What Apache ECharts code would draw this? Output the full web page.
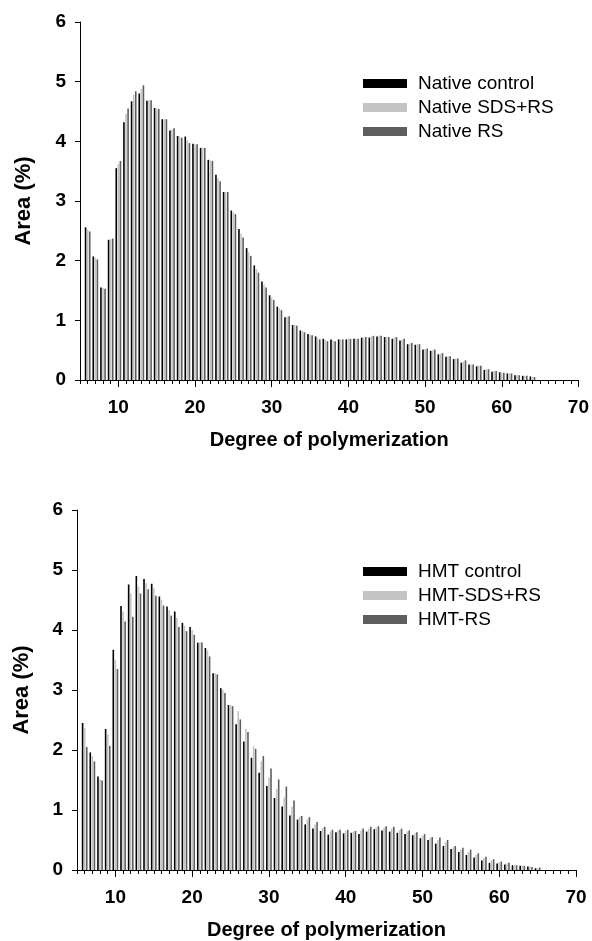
<!DOCTYPE html>
<html>
<head>
<meta charset="utf-8">
<script src="https://cdn.jsdelivr.net/npm/echarts@6/dist/echarts.min.js"></script>
<style>
  html, body { margin: 0; padding: 0; background: #fff; }
  #main { width: 592px; height: 941px; }
</style>
</head>
<body>
<div id="main"></div>
<script>
// degree of polymerization categories (axis runs 5..70)
var dp = [5, 6, 7, 8, 9, 10, 11, 12, 13, 14, 15, 16, 17, 18, 19, 20, 21, 22, 23, 24, 25,
  26, 27, 28, 29, 30, 31, 32, 33, 34, 35, 36, 37, 38, 39, 40, 41, 42, 43, 44, 45,
  46, 47, 48, 49, 50, 51, 52, 53, 54, 55, 56, 57, 58, 59, 60, 61, 62, 63, 64, 65,
  66, 67, 68, 69, 70];
var xTickLabels = [10, 20, 30, 40, 50, 60, 70];
var yTickLabels = [0, 1, 2, 3, 4, 5, 6];

// top chart, DP 6..64
var nativeControl = [2.56, 2.07, 1.55, 2.35, 3.55, 4.32, 4.67, 4.80, 4.68, 4.56,
  4.37, 4.18, 4.09, 4.08, 3.96, 3.89, 3.69, 3.44, 3.15, 2.84,
  2.53, 2.21, 1.92, 1.65, 1.42, 1.23, 1.05, 0.92, 0.83, 0.77,
  0.73, 0.69, 0.68, 0.68, 0.68, 0.69, 0.71, 0.71, 0.73, 0.72,
  0.69, 0.66, 0.60, 0.59, 0.51, 0.49, 0.43, 0.39, 0.35, 0.29,
  0.26, 0.23, 0.17, 0.14, 0.13, 0.11, 0.08, 0.07, 0.06];
var nativeSdsRs = [2.52, 2.05, 1.54, 2.36, 3.62, 4.46, 4.78, 4.88, 4.69, 4.55,
  4.37, 4.20, 4.08, 4.02, 3.95, 3.89, 3.68, 3.38, 3.15, 2.81,
  2.45, 2.14, 1.86, 1.60, 1.38, 1.20, 1.06, 0.92, 0.82, 0.76,
  0.70, 0.67, 0.66, 0.68, 0.69, 0.69, 0.71, 0.73, 0.74, 0.72,
  0.71, 0.68, 0.61, 0.60, 0.52, 0.50, 0.44, 0.40, 0.36, 0.31,
  0.26, 0.24, 0.18, 0.15, 0.12, 0.11, 0.08, 0.07, 0.05];
var nativeRs = [2.49, 2.02, 1.53, 2.37, 3.67, 4.55, 4.84, 4.94, 4.69, 4.54,
  4.37, 4.22, 4.06, 3.97, 3.95, 3.89, 3.67, 3.33, 3.15, 2.78,
  2.39, 2.08, 1.80, 1.55, 1.34, 1.17, 1.07, 0.91, 0.80, 0.75,
  0.68, 0.65, 0.65, 0.68, 0.69, 0.69, 0.72, 0.74, 0.74, 0.72,
  0.72, 0.69, 0.62, 0.60, 0.53, 0.51, 0.45, 0.40, 0.36, 0.33,
  0.26, 0.24, 0.18, 0.15, 0.12, 0.11, 0.08, 0.07, 0.05];

// bottom chart, DP 6..65
var hmtControl = [2.45, 1.96, 1.56, 2.35, 3.67, 4.40, 4.76, 4.90, 4.85, 4.77,
  4.56, 4.39, 4.31, 4.12, 4.05, 3.79, 3.70, 3.28, 3.03, 2.75,
  2.43, 2.14, 1.87, 1.62, 1.40, 1.20, 1.06, 0.91, 0.84, 0.76,
  0.69, 0.65, 0.59, 0.63, 0.61, 0.62, 0.60, 0.64, 0.68, 0.66,
  0.64, 0.62, 0.60, 0.58, 0.53, 0.50, 0.44, 0.40, 0.35, 0.30,
  0.25, 0.21, 0.16, 0.12, 0.11, 0.09, 0.08, 0.07, 0.06, 0.03];
var hmtSdsRs = [2.37, 1.90, 1.51, 2.26, 3.50, 4.31, 4.61, 4.72, 4.78, 4.70,
  4.50, 4.33, 4.20, 4.07, 4.00, 3.79, 3.66, 3.28, 3.00, 2.75,
  2.65, 2.35, 2.06, 1.81, 1.54, 1.35, 1.21, 1.06, 0.89, 0.84,
  0.76, 0.70, 0.64, 0.66, 0.65, 0.64, 0.66, 0.69, 0.71, 0.70,
  0.69, 0.66, 0.64, 0.61, 0.57, 0.53, 0.50, 0.46, 0.38, 0.34,
  0.30, 0.25, 0.20, 0.16, 0.13, 0.11, 0.08, 0.07, 0.06, 0.03];
var hmtRs = [2.05, 1.81, 1.49, 2.07, 3.35, 4.14, 4.22, 4.61, 4.68, 4.57,
  4.41, 4.24, 4.05, 3.98, 3.92, 3.79, 3.56, 3.26, 2.95, 2.73,
  2.51, 2.30, 2.02, 1.90, 1.69, 1.51, 1.39, 1.16, 0.90, 0.88,
  0.80, 0.72, 0.67, 0.67, 0.67, 0.65, 0.69, 0.72, 0.73, 0.73,
  0.72, 0.69, 0.66, 0.63, 0.60, 0.55, 0.54, 0.50, 0.40, 0.37,
  0.34, 0.28, 0.22, 0.18, 0.14, 0.12, 0.08, 0.07, 0.05, 0.04];

var font = '"Liberation Sans", Arial, sans-serif';
var colors = ['#000000', '#c4c4c4', '#5e5e5e'];

function isMajor(i, v) {
  return xTickLabels.indexOf(Number(v)) >= 0;
}

// first category (DP 5) has no data
function pad(arr) {
  return [null].concat(arr);
}

function xAxes(g) {
  return [{
    gridIndex: g,
    type: 'category',
    data: dp,
    boundaryGap: false,
    position: 'bottom',
    axisLine: { lineStyle: { color: '#000', width: 1 } },
    axisTick: { interval: 0, length: 4, lineStyle: { color: '#000' } },
    axisLabel: { show: false },
    name: 'Degree of polymerization',
    nameLocation: 'middle',
    nameGap: 50,
    nameTextStyle: { color: '#000', fontSize: 20, fontWeight: 'bold', fontFamily: font }
  }, {
    gridIndex: g,
    type: 'category',
    data: dp,
    boundaryGap: false,
    position: 'bottom',
    axisLine: { show: false },
    axisTick: { interval: isMajor, length: 7, lineStyle: { color: '#000' } },
    axisLabel: {
      interval: isMajor, margin: 18,
      color: '#000', fontSize: 19, fontWeight: 'bold', fontFamily: font
    }
  }];
}

function yAxis(g, gap) {
  return {
    gridIndex: g,
    type: 'value',
    min: yTickLabels[0],
    max: yTickLabels[yTickLabels.length - 1],
    interval: 1,
    splitLine: { show: false },
    axisLine: { show: true, lineStyle: { color: '#000', width: 1 } },
    axisTick: { show: true, length: 5, lineStyle: { color: '#000' } },
    axisLabel: { margin: 14, color: '#000', fontSize: 19, fontWeight: 'bold', fontFamily: font },
    name: 'Area (%)',
    nameLocation: 'middle',
    nameGap: gap,
    nameTextStyle: { color: '#000', fontSize: 22, fontWeight: 'bold', fontFamily: font }
  };
}

function bars(name, data, color, xi, yi) {
  return {
    name: name,
    type: 'bar',
    xAxisIndex: xi,
    yAxisIndex: yi,
    data: pad(data),
    barWidth: 1.6,
    barGap: '30%',
    itemStyle: { color: color },
    animation: false
  };
}

function legend(names, top) {
  return {
    data: names,
    orient: 'vertical',
    left: 358,
    top: top,
    icon: 'rect',
    itemWidth: 44,
    itemHeight: 9,
    itemGap: 5,
    textStyle: { color: '#000', fontSize: 19, fontFamily: font, padding: [0, 0, 0, 6] }
  };
}

var chart = echarts.init(document.getElementById('main'), null, { width: 592, height: 941 });

var option = {
  backgroundColor: '#fff',
  color: colors,
  animation: false,
  grid: [
    { left: 80, top: 22, width: 500, height: 358 },
    { left: 77, top: 510, width: 499, height: 361 }
  ],
  legend: [
    legend(['Native control', 'Native SDS+RS', 'Native RS'], 69),
    legend(['HMT control', 'HMT-SDS+RS', 'HMT-RS'], 557)
  ],
  xAxis: xAxes(0).concat(xAxes(1)),
  yAxis: [yAxis(0, 45), yAxis(1, 44)],
  series: [
    bars('Native control', nativeControl, colors[0], 0, 0),
    bars('Native SDS+RS', nativeSdsRs, colors[1], 0, 0),
    bars('Native RS', nativeRs, colors[2], 0, 0),
    bars('HMT control', hmtControl, colors[0], 2, 1),
    bars('HMT-SDS+RS', hmtSdsRs, colors[1], 2, 1),
    bars('HMT-RS', hmtRs, colors[2], 2, 1)
  ]
};

chart.setOption(option);
</script>
</body>
</html>
